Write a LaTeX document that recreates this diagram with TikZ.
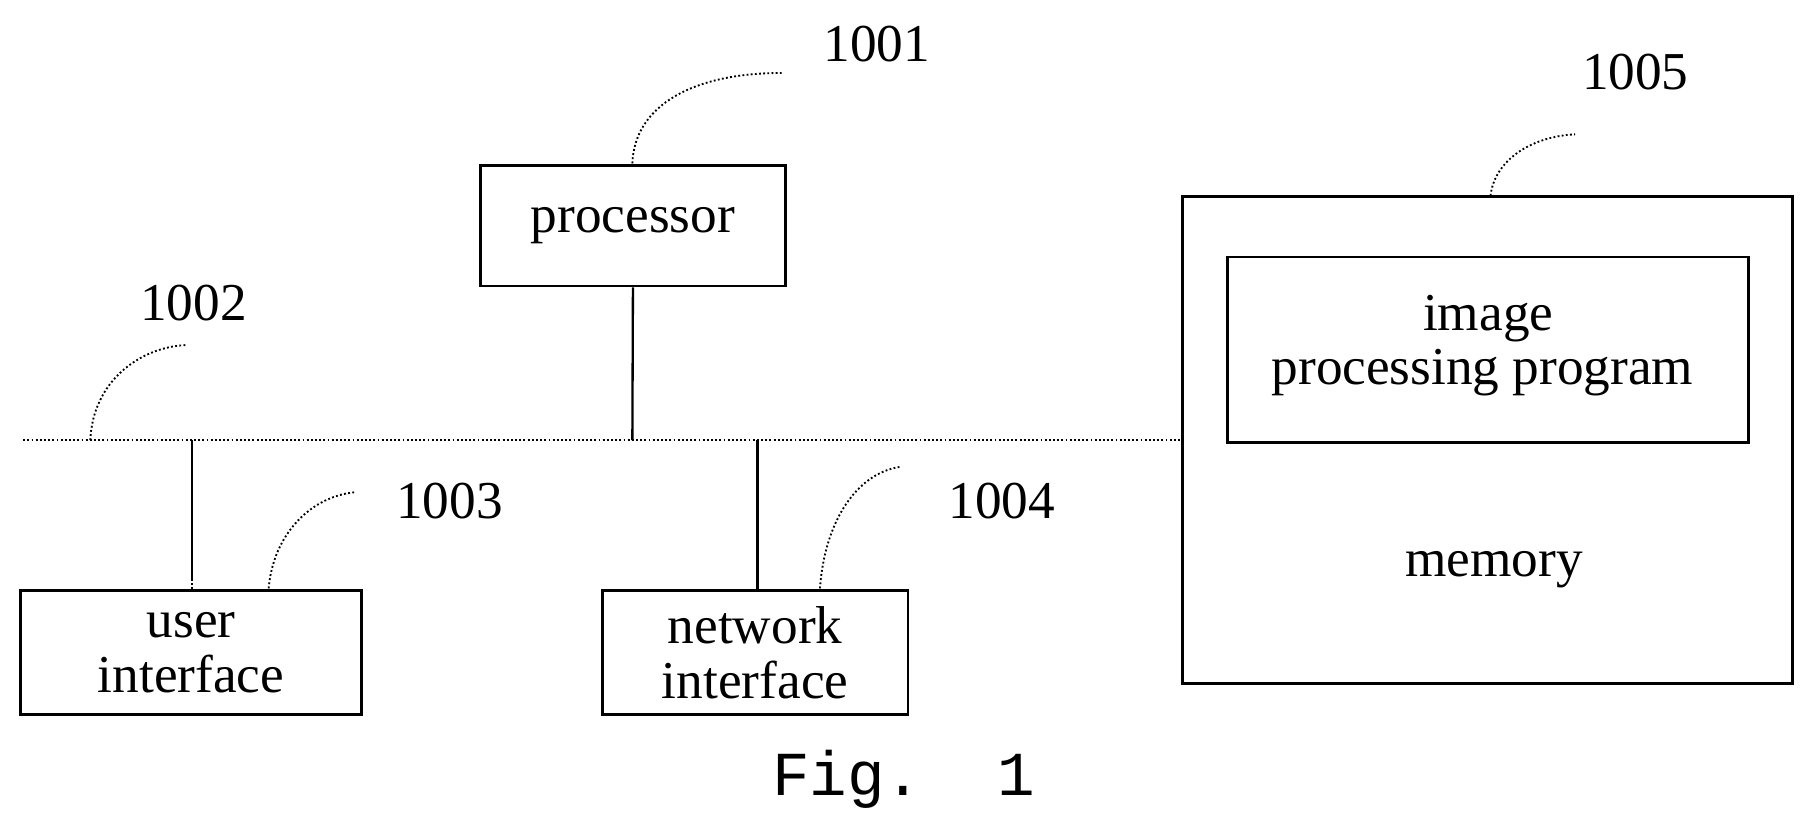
\documentclass[tikz,border=0pt]{standalone}
\usepackage{fontspec}
\setmainfont{Liberation Serif}
\newfontfamily\figfont{Liberation Mono}
\begin{document}
\begin{tikzpicture}[x=0.5pt,y=-0.5pt,
  box/.style={draw,line width=1.2pt,inner sep=0},
  txt/.style={font=\fontsize{23}{24}\selectfont,align=center},
  lead/.style={densely dotted,line width=0.8pt},
  conn/.style={line width=1pt}]
\useasboundingbox (0,0) rectangle (1568,716);
\node[box,minimum width=131.5pt,minimum height=52pt] (proc) at (546.5,195) {};
\node[txt] at (proc) {processor};
\node[box,minimum width=147pt,minimum height=53.5pt] (ui) at (165,563.5) {};
\node[txt] at (ui) {user\\interface};
\node[box,minimum width=132pt,minimum height=53.5pt] (ni) at (652,563.5) {};
\node[txt] at (ni) {network\\interface};
\node[box,minimum width=263.5pt,minimum height=210pt] (mem) at (1284.5,380) {};
\node[box,minimum width=225pt,minimum height=80pt] (ipp) at (1285,302) {};
\node[txt] at (1285,275) {image};
\node[txt] at (1280,322) {processing program};
\node[txt] at (1290,492) {memory};
\coordinate (bl) at (20,380); \coordinate (br) at (1020,380);
\draw[lead] (bl) -- (br);
\coordinate (bp) at (546,380); \coordinate (bu) at (166,380); \coordinate (bn) at (654,380);
\draw[conn] (proc.south) -- (bp);
\draw[conn] (bu) -- (166,500);
\draw[lead] (166,500) -- (ui.north -| bu);
\draw[conn] (bn) -- (ni.north -| bn);
\node[txt] (l1) at (757,38) {1001};
\node[txt] (l2) at (167,262) {1002};
\node[txt] (l3) at (388,433) {1003};
\node[txt] (l4) at (865,433) {1004};
\node[txt] (l5) at (1412,62) {1005};
\draw[lead] (546,141) .. controls (548,90) and (600,63) .. (675,63);
\draw[lead] (78,380) .. controls (80,330) and (120,300) .. (160,298);
\draw[lead] (232,508) .. controls (236,460) and (270,428) .. (307,425);
\draw[lead] (708,508) .. controls (712,450) and (740,408) .. (778,403);
\draw[lead] (1287,169) .. controls (1290,140) and (1320,118) .. (1360,116);
\node[font=\figfont\fontsize{27}{28}\selectfont] (fig) at (780,673) {Fig.\ \ 1};
\end{tikzpicture}
\end{document}
